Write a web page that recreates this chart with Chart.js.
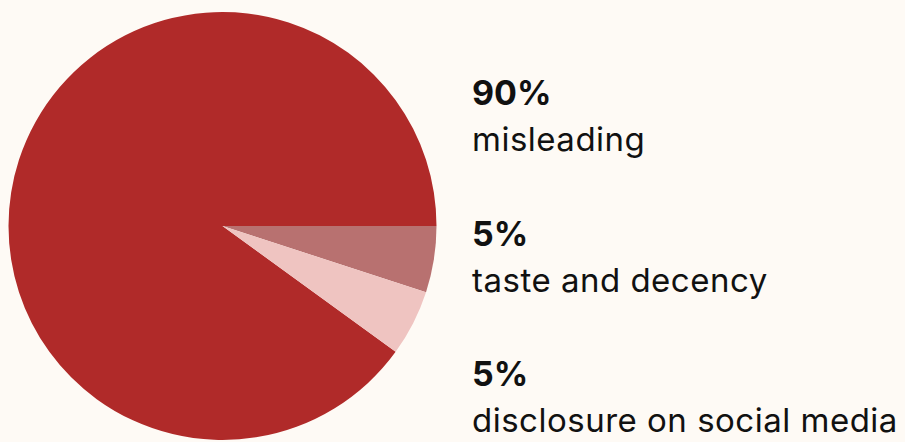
<!DOCTYPE html>
<html>
<head>
<meta charset="utf-8">
<script src="https://cdn.jsdelivr.net/npm/chart.js@4/dist/chart.umd.min.js"></script>
<style>
  html, body { margin: 0; padding: 0; background: #fefaf5; }
  body { width: 905px; height: 442px; position: relative; overflow: hidden; font-family: Inter, "Open Sans", sans-serif; color: #111; }
  #pieWrap { position: absolute; left: 0; top: 0; width: 445px; height: 442px; }
  .legend { position: absolute; left: 472px; top: 0; }
  .item { position: absolute; left: 0; white-space: nowrap; }
  .pct { font-weight: 700; font-size: 34px; line-height: 34px; }
  .lbl { font-weight: 400; font-size: 33px; line-height: 33px; margin-top: 13px; letter-spacing: 0.5px; }
</style>
</head>
<body>
<div id="pieWrap"><canvas id="pie"></canvas></div>
<div class="legend" id="legend"></div>
<script>
  const categories = ['misleading', 'taste and decency', 'disclosure on social media'];
  const shares = [90, 5, 5];
  const colors = ['#b02a29', '#b87170', '#efc4c1'];

  // legend column on the right, one block per category
  const legend = document.getElementById('legend');
  const tops = [76, 217, 357];
  categories.forEach((name, i) => {
    const item = document.createElement('div');
    item.className = 'item';
    item.style.top = tops[i] + 'px';
    item.innerHTML = `<div class="pct">${shares[i]}%</div><div class="lbl">${name}</div>`;
    legend.appendChild(item);
  });

  const ctx = document.getElementById('pie').getContext('2d');
  new Chart(ctx, {
    type: 'pie',
    data: {
      labels: categories,
      datasets: [{
        data: shares,
        backgroundColor: colors,
        borderWidth: 0,
        hoverOffset: 0
      }]
    },
    options: {
      responsive: true,
      maintainAspectRatio: false,
      animation: false,
      // misleading ends at 3 o'clock, the two small slices follow clockwise
      rotation: 126,
      layout: { padding: { top: 12, bottom: 2, left: 0, right: 0 } },
      plugins: {
        legend: { display: false },
        tooltip: { enabled: false }
      }
    }
  });
</script>
</body>
</html>
